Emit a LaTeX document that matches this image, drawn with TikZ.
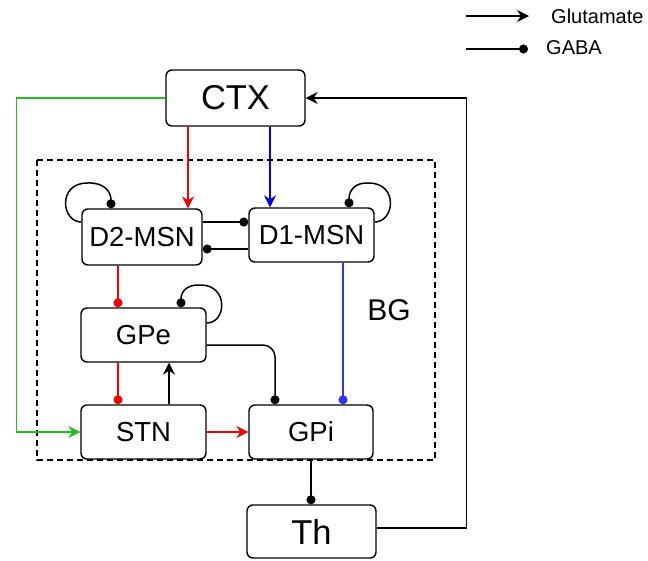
\documentclass[tikz,border=0pt]{standalone}
\usepackage{fontspec}
\setmainfont{Liberation Sans}
\usetikzlibrary{arrows.meta,calc}
\definecolor{cgreen}{RGB}{34,190,34}
\definecolor{cred}{RGB}{245,0,0}
\definecolor{cblue}{RGB}{0,0,245}
\definecolor{cbluel}{RGB}{50,50,245}
\begin{document}
\begin{tikzpicture}[x=1pt,y=-1pt,
  box/.style={draw, rounded corners=6pt, line width=1.4pt, inner sep=0pt,
    font=\fontsize{27.5}{30}\selectfont},
  conn/.style={line width=1.5pt},
  glu/.style={conn,-{Stealth[length=12pt,width=12pt,inset=4pt]}},
  gaba/.style={conn,-{Circle[length=9pt]}},
  legtext/.style={anchor=west, font=\fontsize{20}{22}\selectfont, inner sep=0pt}
]
\useasboundingbox (0,0) rectangle (648,560);

% basal ganglia frame
\draw[line width=1.4pt, dash pattern=on 6pt off 4pt] (37,160) rectangle (435,460);
\node[font=\fontsize{30}{32}\selectfont] (bg) at (389,310) {BG};

% nodes
\node[box, minimum width=139pt, minimum height=56pt, font=\fontsize{34.5}{38}\selectfont] (ctx) at (235.5,98) {CTX};
\node[box, minimum width=120pt, minimum height=56pt] (d2) at (142,237) {D2-MSN};
\node[box, minimum width=125pt, minimum height=54pt] (d1) at (311.5,235) {D1-MSN};
\node[box, minimum width=125pt, minimum height=54pt] (gpe) at (143.5,335) {GPe};
\node[box, minimum width=125pt, minimum height=54pt] (stn) at (143.5,432) {STN};
\node[box, minimum width=124pt, minimum height=54pt] (gpi) at (311,432) {GPi};
\node[box, minimum width=129pt, minimum height=53pt, font=\fontsize{34.5}{38}\selectfont] (th) at (311.5,531.5) {Th};

% cortex projections
\draw[glu, cgreen] (ctx.west) -| ($(stn.west)+(-64,0)$) -- (stn.west);
\draw[glu, cred] ([xshift=-47.5pt]ctx.south) -- ([xshift=-47.5pt]ctx.south |- d2.north);
\draw[glu, cblue] ([xshift=34.5pt]ctx.south) -- ([xshift=34.5pt]ctx.south |- d1.north);

% thalamus feedback
\draw[glu] ([yshift=3.5pt]th.east) -| ($(ctx.east)+(161,0)$) -- (ctx.east);

% MSN mutual inhibition
\draw[gaba] ([yshift=15pt]d2.east) -- ([yshift=15pt]d2.east -| d1.west);
\draw[gaba] ([yshift=-14pt]d1.west) -- ([yshift=-14pt]d1.west -| d2.east);

% self loops
\coordinate (d2l) at ([yshift=15pt]d2.west);
\coordinate (d2t) at ([xshift=-31pt]d2.north);
\draw[gaba] (d2l) .. controls ($(d2l)+(-20,0)$) and ($(d2l)+(-24,-39)$) .. ($(d2l)+(6,-39)$)
  .. controls ($(d2t)+(-7,-26)$) and ($(d2t)+(0,-17)$) .. (d2t);

\coordinate (d1r) at ([yshift=13pt]d1.east);
\coordinate (d1t) at ([xshift=37.5pt]d1.north);
\draw[gaba] (d1r) .. controls ($(d1r)+(20,0)$) and ($(d1r)+(24,-39)$) .. ($(d1r)+(-6,-39)$)
  .. controls ($(d1t)+(6,-25)$) and ($(d1t)+(0,-17)$) .. (d1t);

\coordinate (gper) at ([yshift=12pt]gpe.east);
\coordinate (gpet) at ([xshift=37.5pt]gpe.north);
\draw[gaba] (gper) .. controls ($(gper)+(20,0)$) and ($(gper)+(22,-38)$) .. ($(gper)+(-6,-38)$)
  .. controls ($(gpet)+(6,-23)$) and ($(gpet)+(0,-16)$) .. (gpet);

% striatal outputs
\draw[gaba, cred] ([xshift=-24pt]d2.south) -- ([xshift=-24pt]d2.south |- gpe.north);
\draw[gaba, cbluel] ([xshift=31.5pt]d1.south) -- ([xshift=31.5pt]d1.south |- gpi.north);

% GPe / STN
\draw[gaba, cred] ([xshift=-25.5pt]gpe.south) -- ([xshift=-25.5pt]gpe.south |- stn.north);
\draw[glu] ([xshift=25.5pt]stn.north) -- ([xshift=25.5pt]stn.north |- gpe.south);
\draw[gaba, rounded corners=12pt] ([yshift=-10pt]gpe.east) -| ([xshift=-36pt]gpi.north);
\draw[glu, cred] (stn.east) -- (gpi.west);

% output
\draw[gaba] (gpi.south) -- (gpi.south |- th.north);

% legend
\coordinate (la1) at (466,16);
\coordinate (la2) at (529,16);
\coordinate (lb1) at (466,49);
\coordinate (lb2) at (528,49);
\draw[glu] (la1) -- (la2);
\draw[gaba] (lb1) -- (lb2);
\node[legtext] (lglu) at (551,16) {Glutamate};
\node[legtext] (lgaba) at (546,48) {GABA};
\end{tikzpicture}
\end{document}
